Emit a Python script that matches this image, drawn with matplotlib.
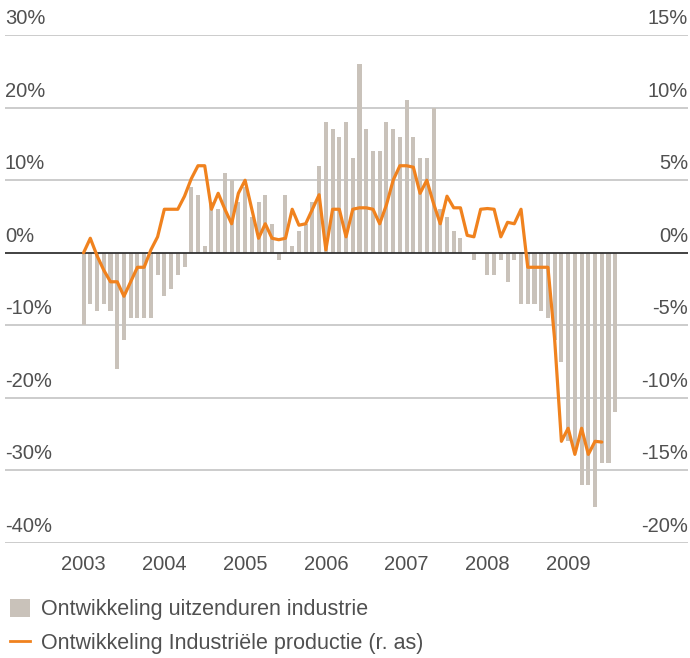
import matplotlib
matplotlib.use("Agg")
import matplotlib.pyplot as plt
from matplotlib.patches import Patch
from matplotlib.lines import Line2D
import numpy as np

plt.rcParams['font.family'] = ['Liberation Sans', 'DejaVu Sans']

# Jaarlabels op de x-as (januari van elk jaar)
years = ["2003", "2004", "2005", "2006", "2007", "2008", "2009"]

# Ontwikkeling uitzenduren industrie (%), maandelijks jan 2003 - aug 2009
uitzenduren = [
    -10, -7, -8, -7, -8, -16, -12, -9, -9, -9, -9, -3,    # 2003
    -6, -5, -3, -2, 9, 8, 1, 7, 6, 11, 10, 7,             # 2004
    9, 5, 7, 8, 4, -1, 8, 1, 3, 4, 7, 12,                 # 2005
    18, 17, 16, 18, 13, 26, 17, 14, 14, 18, 17, 16,       # 2006
    21, 16, 13, 13, 20, 6, 5, 3, 2, 0, -1, 0,             # 2007
    -3, -3, -1, -4, -1, -7, -7, -7, -8, -9, -12, -15,     # 2008
    -26, -27, -32, -32, -35, -29, -29, -22,               # 2009
]

# Ontwikkeling industriele productie (%, rechter as), jan 2003 - jun 2009
productie = [
    0.0, 1.0, -0.2, -1.2, -2.0, -2.0, -3.0, -2.0, -1.0, -1.0, 0.2, 1.1,
    3.0, 3.0, 3.0, 3.9, 5.1, 6.0, 6.0, 3.0, 4.1, 3.0, 2.0, 4.1,
    5.0, 3.0, 1.0, 2.0, 1.0, 0.9, 1.0, 3.0, 1.9, 2.0, 3.0, 4.0,
    0.2, 3.0, 3.0, 1.1, 3.0, 3.1, 3.1, 3.0, 2.0, 3.3, 5.0, 6.0,
    6.0, 5.9, 4.1, 5.0, 3.4, 2.0, 3.9, 3.1, 3.1, 1.2, 1.1, 3.0,
    3.05, 3.0, 1.1, 2.1, 2.0, 3.0, -1.0, -1.0, -1.0, -1.0, -6.0, -13.0,
    -12.1, -13.9, -12.1, -13.9, -13.0, -13.05,
]

left_ticks = [30, 20, 10, 0, -10, -20, -30, -40]
right_ticks = [15, 10, 5, 0, -5, -10, -15, -20]

bar_color = "#c9c2ba"
line_color = "#f0821e"
text_color = "#505050"
fs = 14.5

fig = plt.figure(figsize=(6.9, 6.58), dpi=100)
ax = fig.add_axes([0.007, 0.175, 0.99, 0.7715])

months = np.arange(len(uitzenduren))
ax.bar(months, uitzenduren, width=0.6, color=bar_color, zorder=2)

ax.set_xlim(-11.7, 89.8)
ax.set_ylim(-40, 30)

# rasterlijnen
for v in left_ticks:
    if v == 0:
        ax.axhline(v, color="#333333", lw=1.3, zorder=3)
    else:
        ax.axhline(v, color="#c8c8c8", lw=1.3, zorder=1)

for s in ax.spines.values():
    s.set_visible(False)
ax.set_yticks([])
ax.set_xticks(np.arange(len(years)) * 12)
ax.set_xticklabels(years, fontsize=fs, color=text_color)
ax.tick_params(axis='x', length=0, pad=9)

# aslabels boven de rasterlijnen
for v in left_ticks:
    ax.annotate(f"{v}%", xy=(0, v), xycoords=('axes fraction', 'data'),
                xytext=(0, 5), textcoords='offset points',
                ha='left', va='bottom', fontsize=fs, color=text_color)

ax2 = ax.twinx()
ax2.set_ylim(-20, 15)
ax2.plot(np.arange(len(productie)), productie, color=line_color, lw=2.3,
         solid_joinstyle='round', solid_capstyle='round', zorder=4)
for s in ax2.spines.values():
    s.set_visible(False)
ax2.set_yticks([])
for v in right_ticks:
    ax2.annotate(f"{v}%", xy=(1, v), xycoords=('axes fraction', 'data'),
                 xytext=(0, 5), textcoords='offset points',
                 ha='right', va='bottom', fontsize=fs, color=text_color)

handles = [Patch(facecolor=bar_color, edgecolor='none'),
           Line2D([], [], color=line_color, lw=2)]
labels = ["Ontwikkeling uitzenduren industrie",
          "Ontwikkeling Industriële productie (r. as)"]
fig.legend(handles, labels, loc='upper left', bbox_to_anchor=(0.014, 0.09),
           frameon=False, fontsize=15.5, handlelength=0.95, handleheight=0.95,
           handletextpad=0.5, labelspacing=0.55, borderaxespad=0, borderpad=0,
           labelcolor=text_color)

fig.savefig("out.png", dpi=100)
